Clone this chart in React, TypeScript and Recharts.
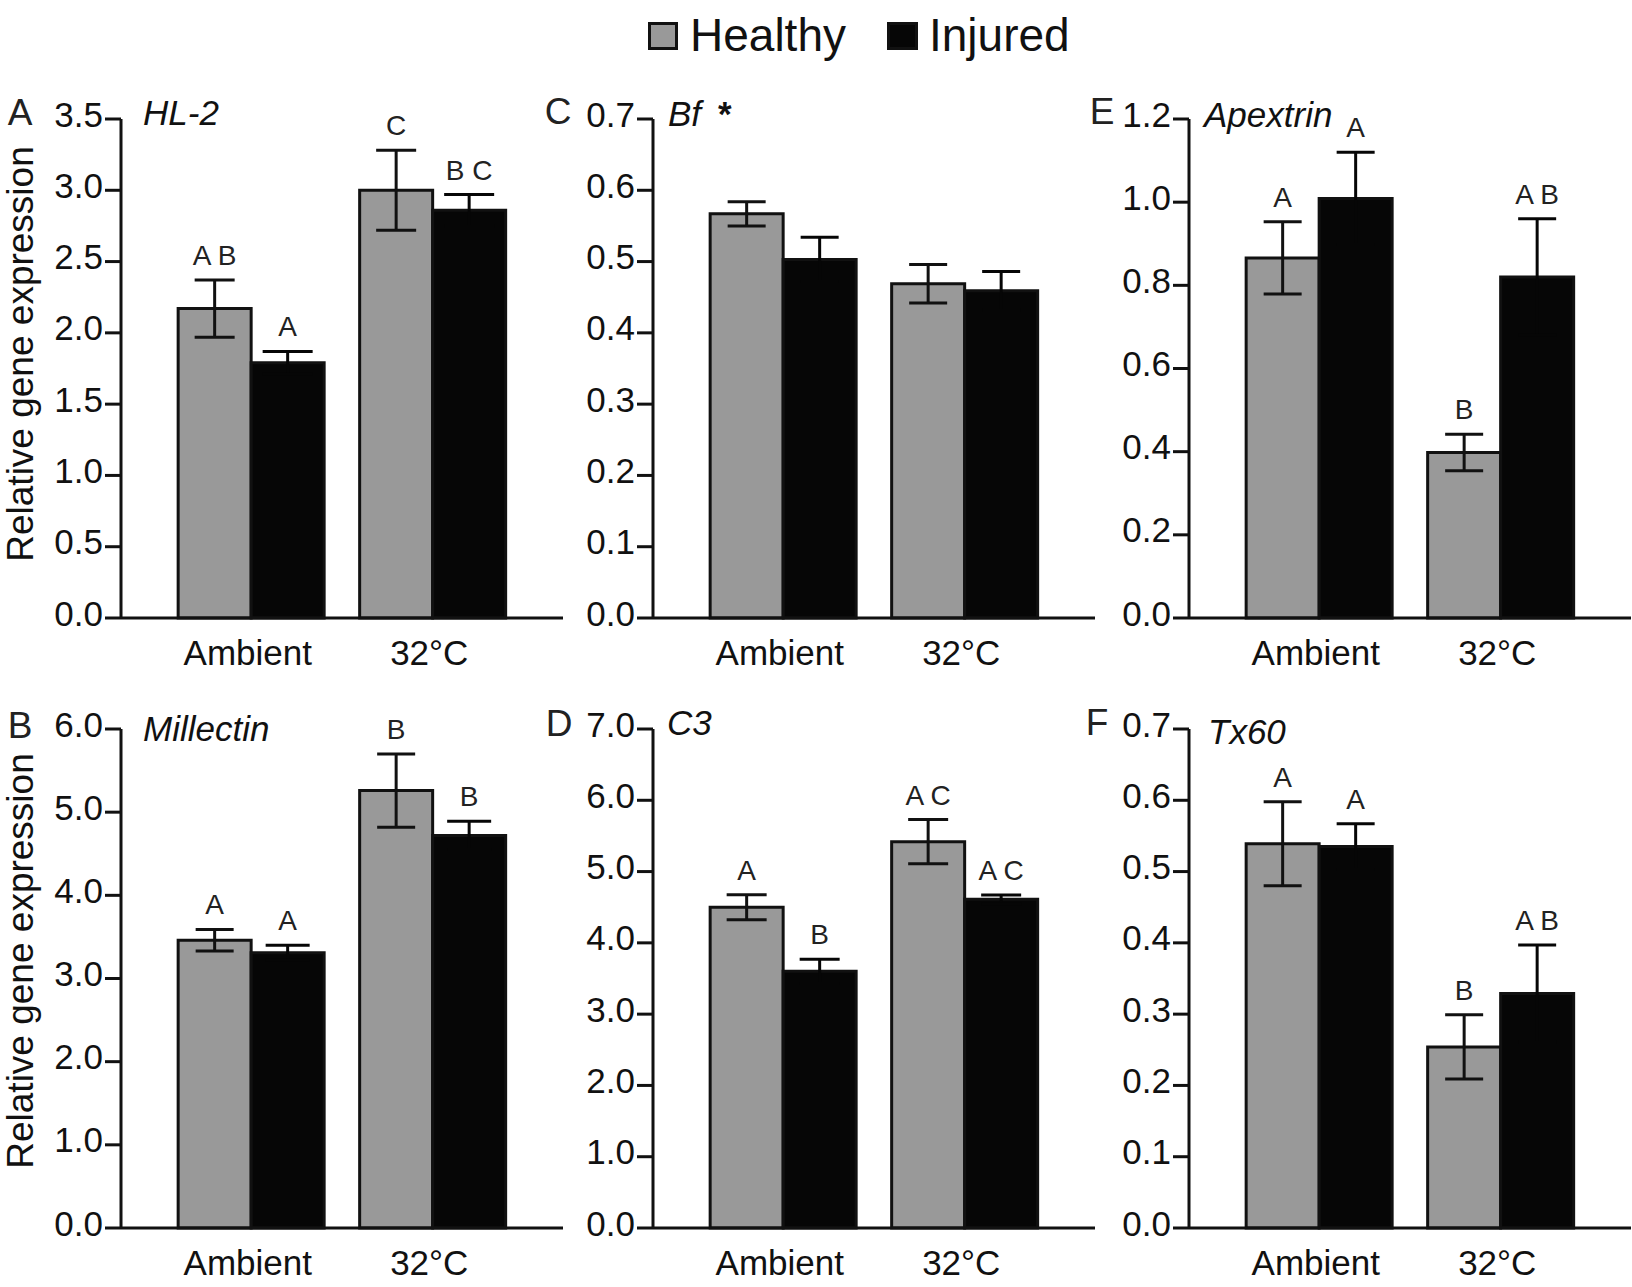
import { BarChart, Bar, XAxis, YAxis, ErrorBar, LabelList } from "recharts";

const FONT = "'Liberation Sans', Arial, Helvetica, sans-serif";

const conditions = ["Ambient", "32°C"];

// A - HL-2
const hl2Healthy = [2.17, 3.0];
const hl2HealthyErr = [0.2, 0.28];
const hl2Injured = [1.79, 2.86];
const hl2InjuredErr = [0.08, 0.11];
const hl2HealthyLetters = ["A B", "C"];
const hl2InjuredLetters = ["A", "B C"];
const hl2Ticks = [0, 0.5, 1, 1.5, 2, 2.5, 3, 3.5];

// B - Millectin
const millHealthy = [3.46, 5.26];
const millHealthyErr = [0.13, 0.44];
const millInjured = [3.31, 4.72];
const millInjuredErr = [0.09, 0.17];
const millHealthyLetters = ["A", "B"];
const millInjuredLetters = ["A", "B"];
const millTicks = [0, 1, 2, 3, 4, 5, 6];

// C - Bf
const bfHealthy = [0.567, 0.469];
const bfHealthyErr = [0.017, 0.027];
const bfInjured = [0.503, 0.459];
const bfInjuredErr = [0.031, 0.027];
const bfHealthyLetters = ["", ""];
const bfInjuredLetters = ["", ""];
const bfTicks = [0, 0.1, 0.2, 0.3, 0.4, 0.5, 0.6, 0.7];

// D - C3
const c3Healthy = [4.5, 5.42];
const c3HealthyErr = [0.175, 0.31];
const c3Injured = [3.6, 4.61];
const c3InjuredErr = [0.17, 0.06];
const c3HealthyLetters = ["A", "A C"];
const c3InjuredLetters = ["B", "A C"];
const c3Ticks = [0, 1, 2, 3, 4, 5, 6, 7];

// E - Apextrin
const apexHealthy = [0.866, 0.398];
const apexHealthyErr = [0.087, 0.044];
const apexInjured = [1.009, 0.82];
const apexInjuredErr = [0.111, 0.14];
const apexHealthyLetters = ["A", "B"];
const apexInjuredLetters = ["A", "A B"];
const apexTicks = [0, 0.2, 0.4, 0.6, 0.8, 1.0, 1.2];

// F - Tx60
const tx60Healthy = [0.539, 0.254];
const tx60HealthyErr = [0.059, 0.045];
const tx60Injured = [0.535, 0.329];
const tx60InjuredErr = [0.032, 0.068];
const tx60HealthyLetters = ["A", "B"];
const tx60InjuredLetters = ["A", "A B"];
const tx60Ticks = [0, 0.1, 0.2, 0.3, 0.4, 0.5, 0.6, 0.7];

const GRAY = "#999999";
const BLACK = "#060606";

const buildRows = (h: number[], he: number[], inj: number[], ie: number[]) =>
  conditions.map((cond, i) => ({ cond, healthy: h[i], hErr: he[i], injured: inj[i], iErr: ie[i] }));

const panels = [
  { id: "A", left: 0, top: 0, ticks: hl2Ticks, rows: buildRows(hl2Healthy, hl2HealthyErr, hl2Injured, hl2InjuredErr), h: hl2Healthy, he: hl2HealthyErr, hl: hl2HealthyLetters, i: hl2Injured, ie: hl2InjuredErr, il: hl2InjuredLetters, capH: 20, capI: 25 },
  { id: "C", left: 532, top: 0, ticks: bfTicks, rows: buildRows(bfHealthy, bfHealthyErr, bfInjured, bfInjuredErr), h: bfHealthy, he: bfHealthyErr, hl: bfHealthyLetters, i: bfInjured, ie: bfInjuredErr, il: bfInjuredLetters, capH: 19, capI: 19 },
  { id: "E", left: 1068, top: 0, ticks: apexTicks, rows: buildRows(apexHealthy, apexHealthyErr, apexInjured, apexInjuredErr), h: apexHealthy, he: apexHealthyErr, hl: apexHealthyLetters, i: apexInjured, ie: apexInjuredErr, il: apexInjuredLetters, capH: 19, capI: 19 },
  { id: "B", left: 0, top: 610, ticks: millTicks, rows: buildRows(millHealthy, millHealthyErr, millInjured, millInjuredErr), h: millHealthy, he: millHealthyErr, hl: millHealthyLetters, i: millInjured, ie: millInjuredErr, il: millInjuredLetters, capH: 19, capI: 22 },
  { id: "D", left: 532, top: 610, ticks: c3Ticks, rows: buildRows(c3Healthy, c3HealthyErr, c3Injured, c3InjuredErr), h: c3Healthy, he: c3HealthyErr, hl: c3HealthyLetters, i: c3Injured, ie: c3InjuredErr, il: c3InjuredLetters, capH: 20, capI: 20 },
  { id: "F", left: 1068, top: 610, ticks: tx60Ticks, rows: buildRows(tx60Healthy, tx60HealthyErr, tx60Injured, tx60InjuredErr), h: tx60Healthy, he: tx60HealthyErr, hl: tx60HealthyLetters, i: tx60Injured, ie: tx60InjuredErr, il: tx60InjuredLetters, capH: 19, capI: 19 },
];

// significance letters sit just above the top of each error bar
const letterContent = (letters: string[], errs: number[], values: number[]) => (props: any) => {
  const vb = props.viewBox || props;
  const x = vb.x ?? props.x;
  const y = vb.y ?? props.y;
  const w = vb.width ?? props.width;
  const hgt = Math.abs(vb.height ?? props.height);
  const idx = props.index;
  const txt = letters[idx];
  if (!txt) return null;
  const pxPerUnit = hgt / values[idx];
  const errTop = y - errs[idx] * pxPerUnit;
  return (
    <text x={x + w / 2} y={errTop - 15} textAnchor="middle" fontSize={28} fill="#222" fontFamily={FONT}>
      {txt}
    </text>
  );
};

const YTick = (props: any) => {
  const { x, y, payload } = props;
  return (
    <text x={x} y={y + 7.5} textAnchor="end" fontSize={35} fill="#111" fontFamily={FONT}>
      {Number(payload.value).toFixed(1)}
    </text>
  );
};

const XTick = (props: any) => {
  const { x, y, payload } = props;
  return (
    <text x={x - 3} y={y + 47} textAnchor="middle" fontSize={35} fill="#111" fontFamily={FONT}>
      {payload.value}
    </text>
  );
};

function Panel({ p }: { p: (typeof panels)[number] }) {
  const yMax = p.ticks[p.ticks.length - 1];
  return (
    <div style={{ position: "absolute", left: p.left, top: p.top }}>
      <BarChart
        width={563}
        height={678}
        data={p.rows}
        margin={{ top: 119, right: 0, left: 0, bottom: 0 }}
        barGap={0}
        barCategoryGap="10%"
      >
        <XAxis
          dataKey="cond"
          height={60}
          padding={{ left: 39, right: 40 }}
          tickLine={false}
          tickSize={0}
          tickMargin={0}
          interval={0}
          axisLine={{ stroke: "#111", strokeWidth: 3 }}
          tick={<XTick />}
        />
        <YAxis
          width={121}
          domain={[0, yMax]}
          ticks={p.ticks}
          interval={0}
          tickSize={16}
          tickMargin={2}
          axisLine={{ stroke: "#111", strokeWidth: 3 }}
          tickLine={{ stroke: "#111", strokeWidth: 3 }}
          tick={<YTick />}
        />
        <Bar dataKey="healthy" fill={GRAY} stroke="#111" strokeWidth={3} isAnimationActive={false}>
          <ErrorBar dataKey="hErr" width={p.capH} stroke="#111" strokeWidth={3} isAnimationActive={false} />
          <LabelList dataKey="healthy" content={letterContent(p.hl, p.he, p.h)} />
        </Bar>
        <Bar dataKey="injured" fill={BLACK} stroke="#111" strokeWidth={3} isAnimationActive={false}>
          <ErrorBar dataKey="iErr" width={p.capI} stroke={BLACK} strokeWidth={3} isAnimationActive={false} />
          <LabelList dataKey="injured" content={letterContent(p.il, p.ie, p.i)} />
        </Bar>
      </BarChart>
    </div>
  );
}

export default function App() {
  const panelLabel = { fontFamily: FONT, fontSize: 37, fill: "#222" } as const;
  const title = { fontFamily: FONT, fontSize: 35, fontStyle: "italic", fill: "#111" } as const;
  const yLabel = { fontFamily: FONT, fontSize: 37, fill: "#111" } as const;
  return (
    <div style={{ position: "absolute", left: 0, top: 0, width: 1632, height: 1287, overflow: "hidden", background: "#fff" }}>
      {panels.map((p) => (
        <Panel key={p.id} p={p} />
      ))}
      <svg width={1632} height={1287} style={{ position: "absolute", left: 0, top: 0, pointerEvents: "none" }}>
        {/* legend */}
        <rect x={649.5} y={23.5} width={27} height={25} fill={GRAY} stroke="#111" strokeWidth={3} />
        <text x={690} y={51} fontFamily={FONT} fontSize={46} fill="#111">Healthy</text>
        <rect x={888.5} y={23.5} width={28} height={25} fill={BLACK} stroke="#111" strokeWidth={3} />
        <text x={929} y={51} fontFamily={FONT} fontSize={46} fill="#111">Injured</text>

        {/* panel letters */}
        <text x={20} y={125} textAnchor="middle" {...panelLabel}>A</text>
        <text x={558} y={124} textAnchor="middle" {...panelLabel}>C</text>
        <text x={1102} y={124} textAnchor="middle" {...panelLabel}>E</text>
        <text x={20} y={738} textAnchor="middle" {...panelLabel}>B</text>
        <text x={559} y={736} textAnchor="middle" {...panelLabel}>D</text>
        <text x={1097} y={735} textAnchor="middle" {...panelLabel}>F</text>

        {/* gene titles */}
        <text x={143} y={125} {...title}>HL-2</text>
        <text x={668} y={126} {...title}>
          Bf
          <tspan x={718} fontStyle="normal" fontWeight="bold">*</tspan>
        </text>
        <text x={1204} y={127} {...title}>Apextrin</text>
        <text x={143} y={741} {...title}>Millectin</text>
        <text x={667} y={735} {...title}>C3</text>
        <text x={1208} y={744} {...title}>Tx60</text>

        {/* y axis titles */}
        <text transform="translate(33,354) rotate(-90)" textAnchor="middle" {...yLabel}>Relative gene expression</text>
        <text transform="translate(33,961) rotate(-90)" textAnchor="middle" {...yLabel}>Relative gene expression</text>
      </svg>
    </div>
  );
}
